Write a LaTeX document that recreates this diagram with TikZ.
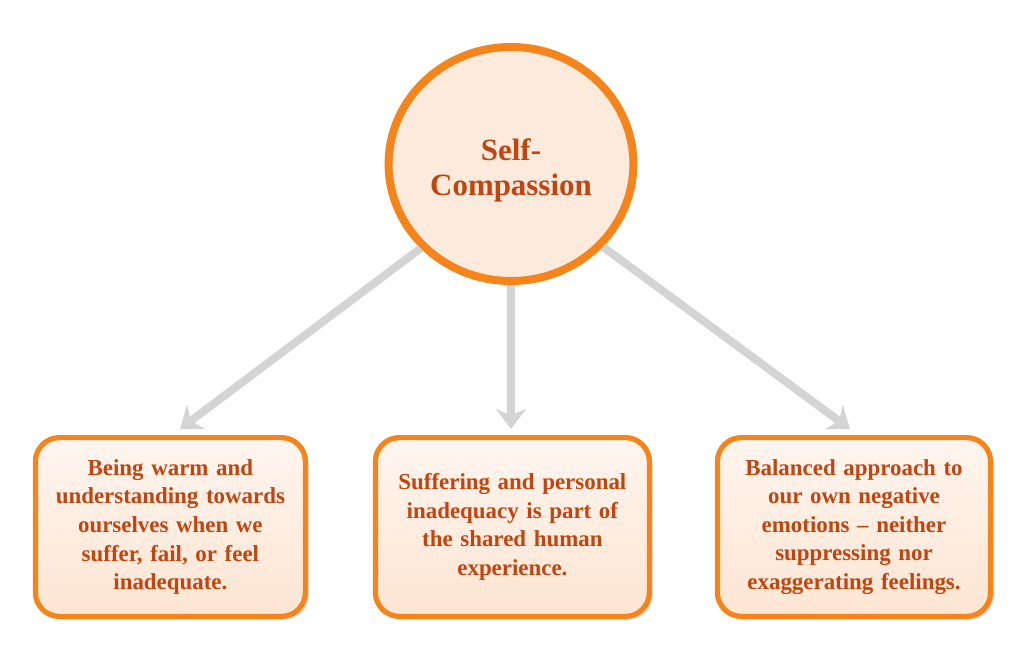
\documentclass[tikz,border=0pt]{standalone}
\usepackage{fontspec}
\setmainfont{Liberation Serif}
\usetikzlibrary{arrows.meta,shadows,shapes.geometric}

\definecolor{rimorange}{HTML}{F5841A}
\definecolor{inkorange}{HTML}{C2440E}
\definecolor{peach}{HTML}{FCEADD}
\definecolor{peachtop}{HTML}{FFF5EF}
\definecolor{peachbot}{HTML}{FDE5D2}
\definecolor{arrowgrey}{HTML}{D4D4D4}

\tikzset{
  hub/.style={ellipse, draw=rimorange, line width=0.2cm, fill=peach,
    minimum width=6.12cm, minimum height=5.85cm, text=inkorange,
    font=\bfseries\fontsize{22}{25}\selectfont,
    drop shadow={shadow xshift=0.06cm, shadow yshift=-0.08cm, opacity=0.25}},
  trait/.style={rectangle, rounded corners=0.6cm, draw=rimorange, line width=0.13cm,
    top color=peachtop, bottom color=peachbot,
    minimum height=4.47cm, align=center, text=inkorange,
    font=\bfseries\fontsize{16.3}{20.3}\selectfont,
    drop shadow={shadow xshift=0.08cm, shadow yshift=-0.08cm, opacity=0.3}},
  link/.style={draw=arrowgrey, line width=0.2cm,
    -{Stealth[length=0.5cm, width=0.75cm, inset=0.16cm]}}
}

\begin{document}
\begin{tikzpicture}
\useasboundingbox (0,0) rectangle (25.6,16.325);

\node[hub] (self) at (12.775,12.225)
  {\raisebox{0pt}[\dimexpr\height+0.35cm\relax]{\begin{tabular}{@{}c@{}}Self-\\Compassion\end{tabular}}};

\node[trait, minimum width=6.75cm, text width=6.5cm] (kind) at (4.26,3.15)
  {Being warm and\\understanding towards\\ourselves when we\\suffer, fail, or feel\\inadequate.};
\node[trait, minimum width=6.85cm, text width=6.5cm] (human) at (12.81,3.15)
  {Suffering and personal\\inadequacy is part of\\the shared human\\experience.};
\node[trait, minimum width=6.83cm, text width=6.5cm] (mind) at (21.35,3.15)
  {Balanced approach to\\our own negative\\emotions -- neither\\suppressing nor\\exaggerating feelings.};

% grey links from the hub down to the three boxes
\draw[link] (self.223) -- ([xshift=0.24cm, yshift=0.15cm]kind.north);
\draw[link] (self.south) -- ([yshift=0.15cm]self.south |- human.north);
\draw[link] (self.318) -- ([xshift=-0.1cm, yshift=0.15cm]mind.north);

\end{tikzpicture}
\end{document}
